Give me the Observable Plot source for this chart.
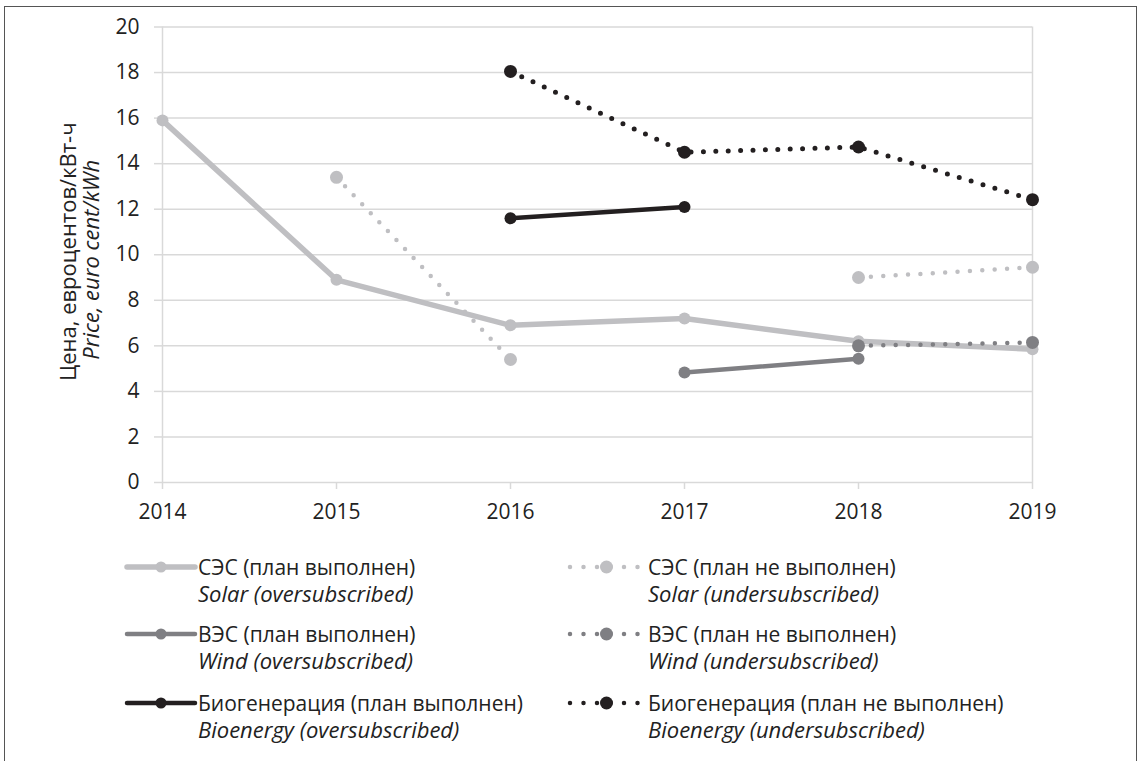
<!DOCTYPE html>
<html>
<head>
<meta charset="utf-8">
<script src="https://cdn.jsdelivr.net/npm/d3@7"></script>
<script src="https://cdn.jsdelivr.net/npm/@observablehq/plot@0.6"></script>
<style>
  html, body { margin: 0; padding: 0; background: #fff; }
  body { font-family: "Open Sans", sans-serif; color: #222; }
  #wrap { position: relative; width: 1139px; height: 761px; overflow: hidden; }
  #frame { position: absolute; left: 4px; top: 6px; width: 1131px; height: 770px;
           border-left: 1.5px solid #555; border-top: 1.5px solid #555; border-right: 1.5px solid #555; }
  #chart { position: absolute; left: 0; top: 0; }
  .sym { position: absolute; display: block; }
  .txt { position: absolute; }
  .txt .t1 { font-size: 21px; line-height: 26px; white-space: nowrap; }
  .txt .t2 { font-size: 22px; line-height: 26px; font-style: italic; white-space: nowrap; }
</style>
</head>
<body>
<div id="wrap">
  <div id="frame"></div>
  <div id="chart"></div>
</div>
<script>
// ---- data ----
const years = [2014, 2015, 2016, 2017, 2018, 2019];
const solarOver  = [15.9, 8.9, 6.9, 7.2, 6.2, 5.85];
const solarUnder = [null, 13.4, 5.4, null, 9.0, 9.45];
const windOver   = [null, null, null, 4.83, 5.43, null];
const windUnder  = [null, null, null, null, 6.0, 6.15];
const bioOver    = [null, null, 11.6, 12.1, null, null];
const bioUnder   = [null, null, 18.05, 14.5, 14.73, 12.42];
const yTicks = [0, 2, 4, 6, 8, 10, 12, 14, 16, 18, 20];
const seriesLabels = [
  ["СЭС (план выполнен)", "Solar (oversubscribed)"],
  ["СЭС (план не выполнен)", "Solar (undersubscribed)"],
  ["ВЭС (план выполнен)", "Wind (oversubscribed)"],
  ["ВЭС (план не выполнен)", "Wind (undersubscribed)"],
  ["Биогенерация (план выполнен)", "Bioenergy (oversubscribed)"],
  ["Биогенерация (план не выполнен)", "Bioenergy (undersubscribed)"]
];
const yLabel1 = "Цена, евроцентов/кВт-ч";
const yLabel2 = "Price, euro cent/kWh";

// ---- styles ----
const cSolar = "#bfbfc2", cWind = "#7f7f83", cBio = "#231f20";
const series = [
  {vals: solarOver,  color: cSolar, dotted: false, w: 5.5, r: 6},
  {vals: solarUnder, color: cSolar, dotted: true,  w: 4.5, r: 6.5},
  {vals: windOver,   color: cWind,  dotted: false, w: 4.5, r: 6},
  {vals: windUnder,  color: cWind,  dotted: true,  w: 4.5, r: 6.5},
  {vals: bioOver,    color: cBio,   dotted: false, w: 4.5, r: 6},
  {vals: bioUnder,   color: cBio,   dotted: true,  w: 5,   r: 6.5}
];

const marks = [
  Plot.ruleY(yTicks, {stroke: "#d9d9d9", strokeWidth: 1.5}),
  Plot.ruleX([years[0], years[years.length - 1]], {stroke: "#d9d9d9", strokeWidth: 1.5}),
  Plot.axisY({ticks: yTicks, tickSize: 8, tickPadding: 15, stroke: "#d9d9d9", strokeWidth: 1.5, fill: "#222", fontSize: 21, label: null}),
  Plot.axisX({ticks: years, tickFormat: d => String(d), tickSize: 7, tickPadding: 15, stroke: "#d9d9d9", strokeWidth: 1.5, fill: "#222", fontSize: 21, label: null}),
  Plot.text([yLabel1], {frameAnchor: "left", textAnchor: "middle", dx: -94, dy: -3, rotate: -90, fontSize: 22, fill: "#222"}),
  Plot.text([yLabel2], {frameAnchor: "left", textAnchor: "middle", dx: -71, dy: 5, rotate: -90, fontSize: 22, fontStyle: "italic", fill: "#222"})
];
for (const s of series) {
  const data = years.map((yr, i) => ({year: yr, value: s.vals[i]}));
  marks.push(Plot.line(data, {
    x: "year", y: "value", stroke: s.color, strokeWidth: s.w,
    strokeLinecap: "round",
    strokeDasharray: s.dotted ? "0 12.4" : null
  }));
  marks.push(Plot.dot(data.filter(d => d.value != null), {x: "year", y: "value", r: s.r, fill: s.color, stroke: "none"}));
}

const chart = Plot.plot({
  width: 1139,
  height: 540,
  marginLeft: 162,
  marginRight: 107,
  marginTop: 26.5,
  marginBottom: 58,
  style: {fontFamily: "Open Sans, sans-serif", fontSize: "21px", color: "#222", background: "transparent"},
  x: {type: "linear", domain: [years[0], years[years.length - 1]], axis: null},
  y: {domain: [0, 20], axis: null},
  marks
});
document.getElementById("chart").appendChild(chart);

// ---- legend ----
const legPos = [
  {left: 124, top: 554}, {left: 566, top: 554},
  {left: 124, top: 621}, {left: 566, top: 621},
  {left: 124, top: 690}, {left: 566, top: 690}
];
const wrap = document.getElementById("wrap");
series.forEach((s, i) => {
  const p = legPos[i];
  const line = s.dotted
    ? `<line x1="4" y1="13" x2="72" y2="13" stroke="${s.color}" stroke-width="4.5" stroke-linecap="round" stroke-dasharray="0 13.5"/><circle cx="40.5" cy="13" r="6.5" fill="${s.color}"/>`
    : `<line x1="3" y1="13" x2="71" y2="13" stroke="${s.color}" stroke-width="${s.w}" stroke-linecap="round"/><circle cx="37" cy="13" r="5.5" fill="${s.color}"/>`;
  const svg = document.createElementNS("http://www.w3.org/2000/svg", "svg");
  svg.setAttribute("class", "sym");
  svg.setAttribute("width", "74");
  svg.setAttribute("height", "26");
  svg.style.left = p.left + "px";
  svg.style.top = p.top + "px";
  svg.innerHTML = line;
  wrap.appendChild(svg);
  const t = document.createElement("div");
  t.className = "txt";
  t.style.left = (p.left + 74 + (s.dotted ? 8 : 0)) + "px";
  t.style.top = p.top + "px";
  t.innerHTML = `<div class="t1">${seriesLabels[i][0]}</div><div class="t2">${seriesLabels[i][1]}</div>`;
  wrap.appendChild(t);
});
</script>
</body>
</html>
